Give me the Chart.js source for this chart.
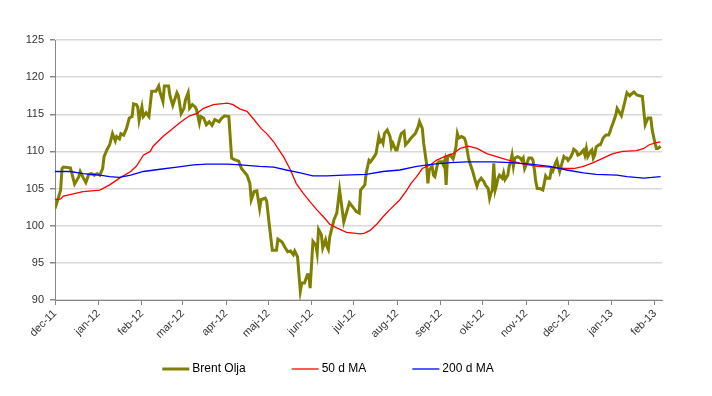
<!DOCTYPE html>
<html>
<head>
<meta charset="utf-8">
<script src="https://cdn.jsdelivr.net/npm/chart.js@4.4.1/dist/chart.umd.min.js"></script>
<style>
  html, body { margin: 0; padding: 0; background: #fff; }
</style>
</head>
<body>
<canvas id="myChart" width="712" height="396"></canvas>
<script>
// days counted from 1 dec 2011
const monthDays = [0, 31, 62, 91, 122, 152, 183, 213, 244, 275, 305, 336, 366, 397, 428];
const monthLabels = ['dec-11', 'jan-12', 'feb-12', 'mar-12', 'apr-12', 'maj-12', 'jun-12', 'jul-12',
  'aug-12', 'sep-12', 'okt-12', 'nov-12', 'dec-12', 'jan-13', 'feb-13'];

const brentDays = [0, 2, 4, 5, 6, 11, 14, 17, 18, 20, 22, 24, 26, 28, 30, 32, 34, 35, 37, 39,
  41, 43, 44, 46, 47, 49, 51, 53, 55, 56, 58, 59, 60, 62, 63, 65, 67, 69, 72, 74,
  75, 77, 78, 81, 82, 84, 87, 88, 90, 92, 93, 95, 96, 98, 100, 101, 103, 104, 106, 108,
  110, 112, 114, 117, 119, 121, 124, 126, 128, 131, 133, 137, 139, 140, 142, 144, 146, 147, 150, 151,
  153, 155, 158, 159, 162, 164, 166, 168, 170, 171, 173, 175, 176, 178, 180, 181, 182, 184, 186, 187,
  188, 190, 191, 193, 194, 195, 196, 199, 201, 203, 206, 210, 215, 217, 218, 221, 222, 224, 225, 227,
  229, 231, 232, 233, 234, 235, 237, 239, 240, 241, 243, 244, 246, 247, 249, 250, 252, 254, 257, 259,
  260, 262, 263, 265, 266, 267, 269, 270, 271, 273, 274, 276, 277, 278, 279, 280, 282, 284, 285, 286,
  287, 288, 290, 292, 293, 295, 296, 298, 300, 301, 302, 304, 306, 307, 309, 310, 311, 312, 313, 314,
  315, 316, 317, 319, 320, 321, 323, 324, 325, 326, 327, 328, 330, 332, 333, 334, 335, 337, 338, 340,
  341, 342, 343, 344, 346, 348, 349, 350, 351, 353, 354, 355, 357, 358, 359, 360, 361, 363, 364, 365,
  366, 368, 369, 370, 372, 373, 375, 376, 377, 378, 379, 380, 382, 383, 384, 385, 386, 388, 389, 390,
  391, 393, 395, 396, 397, 398, 400, 401, 404, 406, 408, 410, 411, 413, 415, 417, 419, 421, 423, 425,
  426, 428, 429, 430, 432];
const brentValues = [102.3, 103.5, 104.8, 107.7, 107.9, 107.8, 105.6, 106.6, 107.3, 106.5, 105.8, 106.9, 107.0, 106.8, 107.0, 106.8, 107.7, 109.3, 110.2, 110.9,
  112.4, 111.4, 112.0, 111.7, 112.4, 112.2, 113.1, 114.5, 114.7, 116.4, 116.3, 116.0, 114.2, 116.0, 114.7, 115.2, 114.7, 118.1, 118.1, 118.8,
  117.9, 116.7, 118.8, 118.8, 117.5, 116.2, 117.9, 117.5, 115.1, 115.8, 116.9, 117.9, 115.8, 116.3, 116.0, 115.6, 113.8, 114.7, 114.5, 113.6,
  114.0, 113.5, 114.3, 114.0, 114.5, 114.8, 114.7, 109.1, 108.9, 108.7, 107.7, 106.8, 105.7, 103.5, 104.6, 104.7, 102.3, 103.5, 103.7, 103.3,
  99.9, 96.7, 96.7, 98.2, 97.8, 97.1, 96.5, 96.6, 96.1, 96.6, 95.8, 91.2, 92.3, 92.3, 93.4, 93.4, 91.6, 97.9, 97.4, 96.3,
  99.5, 98.8, 97.0, 98.1, 97.2, 96.8, 98.5, 100.8, 101.7, 104.8, 100.5, 103.1, 101.9, 101.7, 104.8, 105.5, 107.1, 108.8, 108.6, 109.1,
  109.7, 112.0, 111.3, 111.5, 111.1, 112.4, 112.9, 112.0, 110.6, 111.1, 110.2, 110.2, 111.8, 112.4, 112.7, 110.9, 111.3, 111.8, 112.4, 113.3,
  114.0, 113.1, 111.1, 108.4, 105.7, 107.5, 108.0, 106.8, 106.6, 108.4, 108.6, 108.6, 108.2, 108.8, 105.5, 109.3, 109.5, 109.0, 109.7, 110.6,
  112.4, 111.8, 112.0, 111.8, 111.3, 109.1, 108.4, 107.3, 105.9, 105.3, 105.9, 106.4, 105.9, 105.5, 105.0, 103.7, 104.4, 104.8, 108.4, 104.8,
  105.5, 106.4, 106.8, 106.4, 107.1, 106.2, 106.8, 108.0, 108.6, 109.5, 108.0, 109.1, 109.3, 109.1, 108.8, 109.1, 107.7, 108.6, 109.1, 109.1,
  108.8, 107.5, 105.9, 105.0, 105.0, 104.8, 105.7, 106.7, 106.4, 106.4, 107.5, 107.3, 108.4, 108.8, 108.0, 107.3, 108.0, 109.3, 109.1, 109.1,
  108.8, 109.3, 109.7, 110.3, 110.0, 109.5, 109.7, 110.0, 110.2, 109.5, 110.4, 109.3, 110.0, 110.2, 109.1, 109.5, 110.6, 110.9, 110.9, 111.3,
  111.8, 112.2, 112.2, 112.7, 113.3, 113.8, 114.9, 115.8, 114.8, 116.3, 117.9, 117.5, 117.7, 118.0, 117.6, 117.5, 117.4, 113.6, 114.5, 114.5,
  112.9, 111.1, 110.4, 110.4, 110.7];

const ma50Days = [0, 4, 6, 13, 20, 32, 39, 46, 54, 58, 63, 68, 70, 77, 84, 90, 96, 101, 106, 113,
  123, 127, 132, 137, 141, 147, 151, 156, 159, 163, 168, 172, 177, 182, 187, 191, 196, 201, 208, 218,
  221, 225, 230, 234, 239, 246, 251, 254, 258, 262, 268, 272, 279, 284, 289, 295, 301, 308, 315, 322,
  332, 344, 353, 363, 370, 377, 384, 391, 398, 405, 415, 420, 424, 429, 432];
const ma50Values = [103.5, 103.6, 104.0, 104.3, 104.6, 104.8, 105.5, 106.4, 107.3, 108.0, 109.5, 110.0, 110.7, 112.0, 113.1, 114.0, 114.8, 115.1, 115.8, 116.3,
  116.5, 116.3, 115.7, 115.4, 114.5, 113.1, 112.4, 111.3, 110.4, 109.3, 107.5, 105.7, 104.4, 103.2, 102.1, 101.3, 100.2, 99.7, 99.1, 98.9,
  99.0, 99.4, 100.3, 101.2, 102.2, 103.5, 104.8, 105.7, 106.6, 107.7, 108.2, 108.8, 109.4, 109.7, 110.4, 110.7, 110.4, 109.7, 109.3, 108.9,
  108.4, 108.0, 107.9, 107.7, 107.7, 108.0, 108.5, 109.1, 109.7, 110.0, 110.1, 110.4, 110.9, 111.2, 111.3];

const ma200Days = [0, 11, 20, 32, 39, 46, 54, 63, 75, 87, 99, 108, 123, 132, 146, 156, 165, 175, 184, 194,
  206, 222, 234, 246, 258, 270, 282, 294, 313, 325, 339, 353, 365, 377, 386, 401, 408, 420, 432];
const ma200Values = [107.3, 107.3, 107.0, 106.8, 106.6, 106.5, 106.8, 107.3, 107.6, 107.9, 108.2, 108.3, 108.3, 108.2, 108.0, 107.9, 107.5, 107.1, 106.7, 106.7,
  106.8, 106.9, 107.3, 107.5, 108.0, 108.3, 108.5, 108.6, 108.6, 108.5, 108.3, 108.0, 107.5, 107.1, 106.9, 106.8, 106.6, 106.4, 106.6];

const toPoints = (xs, ys) => xs.map((x, i) => ({ x: x, y: ys[i] }));

Chart.defaults.font.family = "'Liberation Sans', Arial, sans-serif";

// legend drawn by hand: line sample right next to the text, like the original
const bottomLegend = {
  id: 'bottomLegend',
  afterDraw(chart) {
    const c = chart.ctx;
    const lineLen = 27, textGap = 3, itemGap = 46, y = 369;
    c.save();
    c.font = '12px "Liberation Sans", Arial, sans-serif';
    c.textBaseline = 'middle';
    c.fillStyle = '#000';
    const items = chart.data.datasets.map(ds => ({ ds, w: lineLen + textGap + c.measureText(ds.label).width }));
    const total = items.reduce((s, it) => s + it.w, 0) + itemGap * (items.length - 1);
    let x = 328 - total / 2;
    items.forEach(it => {
      c.strokeStyle = it.ds.borderColor;
      c.lineWidth = it.ds.borderWidth;
      c.beginPath();
      c.moveTo(x, y);
      c.lineTo(x + lineLen, y);
      c.stroke();
      c.fillText(it.ds.label, x + lineLen + textGap, y);
      x += it.w + itemGap;
    });
    c.restore();
  }
};

const ctx = document.getElementById('myChart');
const myChart = new Chart(ctx, {
  type: 'line',
  data: {
    datasets: [{
      label: 'Brent Olja',
      data: toPoints(brentDays, brentValues),
      borderColor: '#808000',
      backgroundColor: '#808000',
      borderWidth: 3,
      order: 3
    },
    {
      label: '50 d MA',
      data: toPoints(ma50Days, ma50Values),
      borderColor: '#ff0000',
      backgroundColor: '#ff0000',
      borderWidth: 1.3,
      order: 2
    },
    {
      label: '200 d MA',
      data: toPoints(ma200Days, ma200Values),
      borderColor: '#0000ff',
      backgroundColor: '#0000ff',
      borderWidth: 1.3,
      order: 1
    }]
  },
  plugins: [bottomLegend],
  options: {
    responsive: false,
    animation: false,
    devicePixelRatio: 1,
    elements: { point: { radius: 0 }, line: { tension: 0 } },
    layout: { padding: { top: 40, right: 50, bottom: 0, left: 0 } },
    plugins: {
      tooltip: { enabled: false },
      legend: { display: false }
    },
    scales: {
      x: {
        type: 'linear',
        min: 0,
        max: 433,
        afterBuildTicks: axis => { axis.ticks = monthDays.map(v => ({ value: v })); },
        afterFit: axis => { axis.height = 96; },
        ticks: {
          autoSkip: false,
          maxRotation: 45,
          minRotation: 45,
          padding: 2,
          color: '#333',
          font: { size: 11 },
          callback: (v, i) => monthLabels[i]
        },
        grid: { drawOnChartArea: false, tickLength: 5, color: '#888' },
        border: { color: '#888' }
      },
      y: {
        min: 90,
        max: 125,
        afterFit: axis => { axis.width = 55; },
        ticks: { stepSize: 5, padding: 6, color: '#333', font: { size: 11 } },
        grid: { color: '#d9d9d9', lineWidth: 1.5, tickColor: '#888', tickLength: 5 },
        border: { color: '#888' }
      }
    }
  }
});
</script>
</body>
</html>
